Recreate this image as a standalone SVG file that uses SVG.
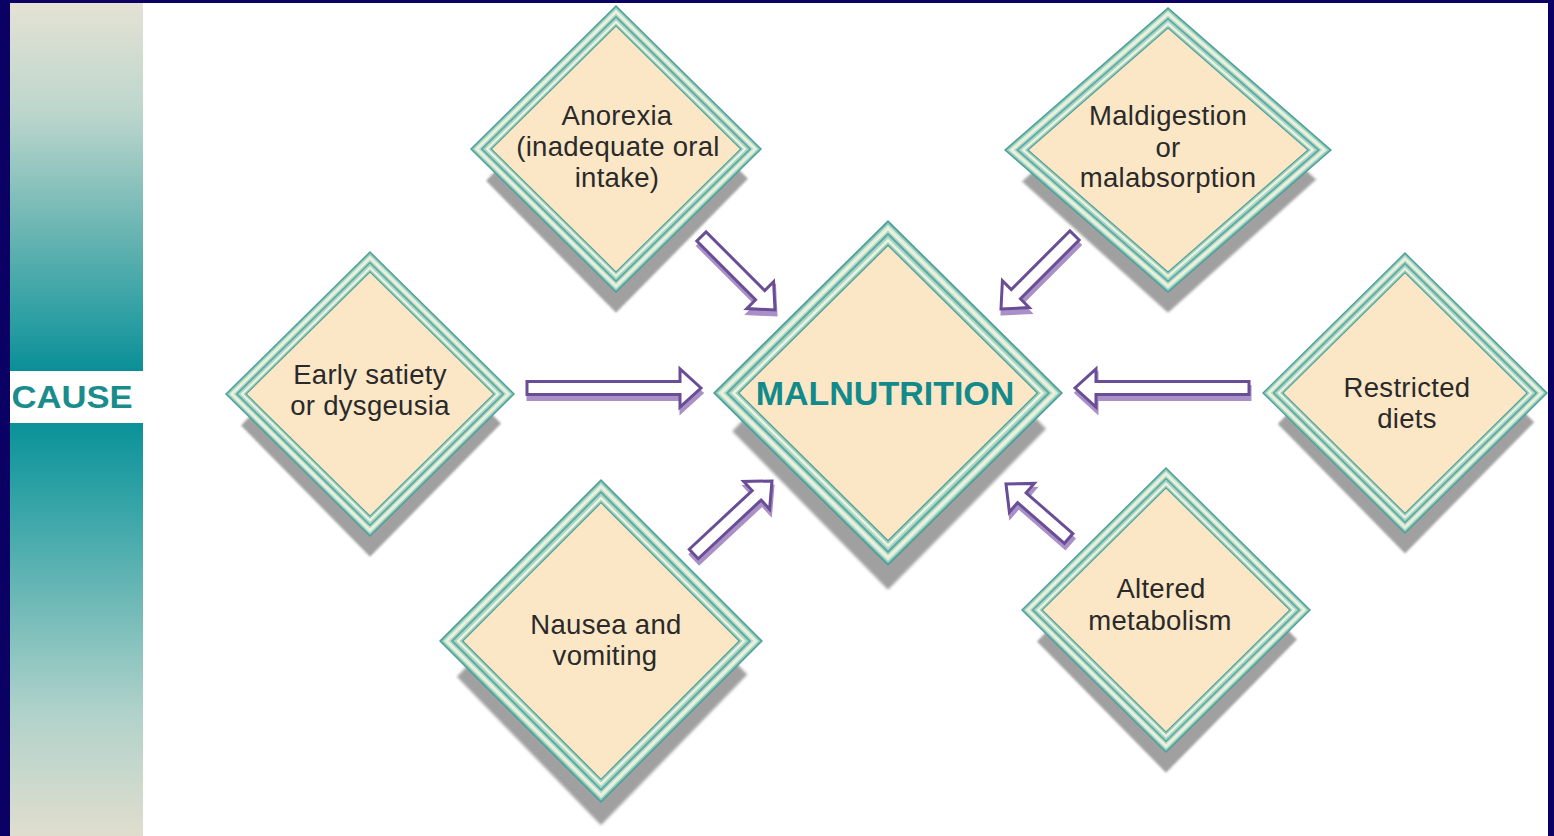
<svg xmlns="http://www.w3.org/2000/svg" xmlns:xlink="http://www.w3.org/1999/xlink" width="1554" height="836" viewBox="0 0 1554 836">
<style>
.lbl{font-family:"Liberation Sans",Arial,sans-serif;font-size:27.5px;fill:#2a2a2a;text-anchor:middle;letter-spacing:0.3px}
.big{font-family:"Liberation Sans",Arial,sans-serif;font-size:34px;font-weight:bold;fill:#128a8b;text-anchor:middle}
.arr{fill:#ffffff;stroke:#6a4e95;stroke-width:3;stroke-linejoin:miter}
.arrs{fill:#a991c8;stroke:#a991c8;stroke-width:3}
</style>
<defs>
<linearGradient id="gTop" x1="0" y1="0" x2="0" y2="1">
<stop offset="0" stop-color="#e4e2d4"/>
<stop offset="0.3" stop-color="#bcd6cc"/>
<stop offset="0.65" stop-color="#62b2b0"/>
<stop offset="0.87" stop-color="#2a9ea2"/>
<stop offset="1" stop-color="#0a8f96"/>
</linearGradient>
<linearGradient id="gBot" x1="0" y1="0" x2="0" y2="1">
<stop offset="0" stop-color="#0a9298"/>
<stop offset="0.15" stop-color="#2aa0a4"/>
<stop offset="0.4" stop-color="#66b6b4"/>
<stop offset="0.7" stop-color="#b0d2ca"/>
<stop offset="1" stop-color="#e0dece"/>
</linearGradient>
<filter id="soft" x="-10%" y="-10%" width="120%" height="120%"><feGaussianBlur stdDeviation="1.2"/></filter>
<g id="dia">
<polygon points="0,-104 131,30 0,165 -129,32" fill="#a0a0a0" filter="url(#soft)"/>
<polygon points="0,-145 145,0 0,145 -145,0" fill="#4f9f96"/>
<polygon points="0,-143 143,0 0,143 -143,0" fill="#8fcabd"/>
<polygon points="0,-141 141,0 0,141 -141,0" fill="#d6ecdc"/>
<polygon points="0,-139 139,0 0,139 -139,0" fill="#f3f1d8"/>
<polygon points="0,-136.5 136.5,0 0,136.5 -136.5,0" fill="#b6dccf"/>
<polygon points="0,-134.5 134.5,0 0,134.5 -134.5,0" fill="#5faa9f"/>
<polygon points="0,-132 132,0 0,132 -132,0" fill="#a9d6ca"/>
<polygon points="0,-129.5 129.5,0 0,129.5 -129.5,0" fill="#eef3dc"/>
<polygon points="0,-126.5 126.5,0 0,126.5 -126.5,0" fill="#9ccdc0"/>
<polygon points="0,-124.5 124.5,0 0,124.5 -124.5,0" fill="#4f9f96"/>
<polygon points="0,-123 123,0 0,123 -123,0" fill="#fbe7c6"/>
</g>
</defs>

<rect x="0" y="0" width="1554" height="836" fill="#0b0064"/>
<rect x="10" y="3" width="1538" height="833" fill="#ffffff"/>

<g id="sidebar">
<rect x="10" y="3" width="133" height="368" fill="url(#gTop)"/>
<rect x="10" y="371" width="133" height="52" fill="#ffffff"/>
<rect x="10" y="423" width="133" height="413" fill="url(#gBot)"/>
<text x="72" y="408" font-family="'Liberation Sans',Arial,sans-serif" font-size="31" font-weight="bold" fill="#1a8c8c" text-anchor="middle" textLength="121" lengthAdjust="spacingAndGlyphs">CAUSE</text>
</g>

<g id="node-anorexia">
<use xlink:href="#dia" transform="translate(616,149) scale(1.007,0.993)"/>
<text class="lbl" x="617" y="125">Anorexia</text>
<text class="lbl" x="618" y="156">(inadequate oral</text>
<text class="lbl" x="617" y="187">intake)</text>
</g>

<g id="node-maldigestion">
<use xlink:href="#dia" transform="translate(1168,150) scale(1.131,0.986)"/>
<text class="lbl" x="1168" y="125">Maldigestion</text>
<text class="lbl" x="1168" y="157">or</text>
<text class="lbl" x="1168" y="187">malabsorption</text>
</g>

<g id="node-early">
<use xlink:href="#dia" transform="translate(370,394) scale(1,0.986)"/>
<text class="lbl" x="370" y="384">Early satiety</text>
<text class="lbl" x="370" y="415">or dysgeusia</text>
</g>

<g id="node-malnutrition">
<use xlink:href="#dia" transform="translate(888,393) scale(1.207,1.193)"/>
<text class="big" x="885" y="405">MALNUTRITION</text>
</g>

<g id="node-restricted">
<use xlink:href="#dia" transform="translate(1405,393) scale(0.986,0.972)"/>
<text class="lbl" x="1407" y="397">Restricted</text>
<text class="lbl" x="1407" y="428">diets</text>
</g>

<g id="node-nausea">
<use xlink:href="#dia" transform="translate(601,641) scale(1.117,1.117)"/>
<text class="lbl" x="606" y="634">Nausea and</text>
<text class="lbl" x="605" y="665">vomiting</text>
</g>

<g id="node-altered">
<use xlink:href="#dia" transform="translate(1166,610) scale(1,0.986)"/>
<text class="lbl" x="1161" y="598">Altered</text>
<text class="lbl" x="1160" y="630">metabolism</text>
</g>

<g id="connectors">
<g transform="translate(701,388)">
<path class="arrs" transform="translate(1,5)" d="M0,0 L-21,-19 L-21,-6.5 L-174,-6.5 L-174,6.5 L-21,6.5 L-21,19 Z"/>
<path class="arr" d="M0,0 L-21,-19 L-21,-6.5 L-174,-6.5 L-174,6.5 L-21,6.5 L-21,19 Z"/>
</g>
<g transform="translate(1075,388) rotate(180)">
<path class="arrs" transform="rotate(180) translate(1,5) rotate(180)" d="M0,0 L-21,-19 L-21,-6.5 L-174,-6.5 L-174,6.5 L-21,6.5 L-21,19 Z"/>
<path class="arr" d="M0,0 L-21,-19 L-21,-6.5 L-174,-6.5 L-174,6.5 L-21,6.5 L-21,19 Z"/>
</g>
<g transform="translate(775,310) rotate(45)">
<path class="arrs" transform="rotate(-45) translate(1,5) rotate(45)" d="M0,0 L-21,-19 L-21,-6.5 L-104,-6.5 L-104,6.5 L-21,6.5 L-21,19 Z"/>
<path class="arr" d="M0,0 L-21,-19 L-21,-6.5 L-104,-6.5 L-104,6.5 L-21,6.5 L-21,19 Z"/>
</g>
<g transform="translate(1001,309) rotate(135)">
<path class="arrs" transform="rotate(-135) translate(1,5) rotate(135)" d="M0,0 L-21,-19 L-21,-6.5 L-104,-6.5 L-104,6.5 L-21,6.5 L-21,19 Z"/>
<path class="arr" d="M0,0 L-21,-19 L-21,-6.5 L-104,-6.5 L-104,6.5 L-21,6.5 L-21,19 Z"/>
</g>
<g transform="translate(772,481) rotate(-43)">
<path class="arrs" transform="rotate(43) translate(1,5) rotate(-43)" d="M0,0 L-21,-19 L-21,-6.5 L-107,-6.5 L-107,6.5 L-21,6.5 L-21,19 Z"/>
<path class="arr" d="M0,0 L-21,-19 L-21,-6.5 L-107,-6.5 L-107,6.5 L-21,6.5 L-21,19 Z"/>
</g>
<g transform="translate(1006,484) rotate(-139)">
<path class="arrs" transform="rotate(139) translate(1,5) rotate(-139)" d="M0,0 L-21,-19 L-21,-6.5 L-83,-6.5 L-83,6.5 L-21,6.5 L-21,19 Z"/>
<path class="arr" d="M0,0 L-21,-19 L-21,-6.5 L-83,-6.5 L-83,6.5 L-21,6.5 L-21,19 Z"/>
</g>
</g>
</svg>
